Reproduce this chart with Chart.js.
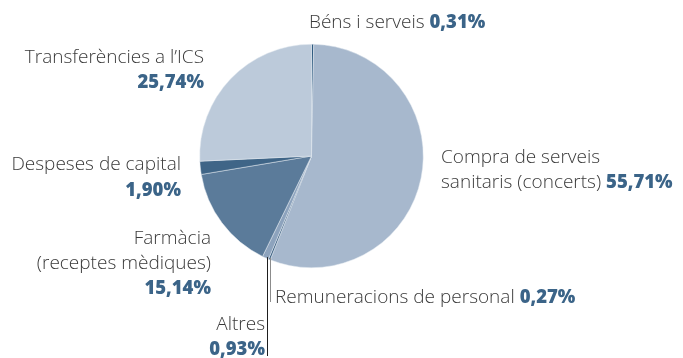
<!DOCTYPE html>
<html>
<head>
<meta charset="utf-8">
<script src="https://cdn.jsdelivr.net/npm/chart.js@4.4.1/dist/chart.umd.min.js"></script>
<style>
  html, body { margin: 0; padding: 0; background: #ffffff; }
  #wrap { width: 683px; height: 358px; position: relative; }
</style>
</head>
<body>
<div id="wrap"><canvas id="c" width="683" height="358"></canvas></div>
<script>
// Despesa per capítols (%), en ordre horari des de dalt
const categories = [
  'Béns i serveis',
  'Compra de serveis sanitaris (concerts)',
  'Remuneracions de personal',
  'Altres',
  'Farmàcia (receptes mèdiques)',
  'Despeses de capital',
  'Transferències a l’ICS'
];
const shares = [0.31, 55.71, 0.27, 0.93, 15.14, 1.90, 25.74];
const shareLabels = ['0,31%', '55,71%', '0,27%', '0,93%', '15,14%', '1,90%', '25,74%'];
const sliceColors = ['#2f5b80', '#a7b8cd', '#3a5f82', '#8da3bd', '#5b7b9a', '#3f6587', '#bccada'];

const NAME_FONT = '300 19px "Open Sans", Lato, sans-serif';
const NUM_FONT = '800 18.5px "Open Sans", Lato, sans-serif';
const NAME_COLOR = '#3a3a3a';
const NUM_COLOR = '#3b6488';

// Each label: lines of [text, isNumber] runs, anchor x, alignment, first baseline y, line gap
const labelLayout = [
  { x: 309, align: 'left',  y: 28.3, gap: 25,   lines: [[[categories[0] + ' ', false], [shareLabels[0], true]]] },
  { x: 441, align: 'left',  y: 163.3, gap: 24.5, lines: [[['Compra de serveis', false]], [['sanitaris (concerts) ', false], [shareLabels[1], true]]] },
  { x: 275, align: 'left',  y: 302.7, gap: 25,  lines: [[[categories[2] + ' ', false], [shareLabels[2], true]]] },
  { x: 265, align: 'right', y: 330, gap: 24.5,  lines: [[['Altres', false]], [[shareLabels[3], true]]] },
  { x: 211, align: 'right', y: 243.5, gap: 25,  lines: [[['Farmàcia', false]], [['(receptes mèdiques)', false]], [[shareLabels[4], true]]] },
  { x: 181, align: 'right', y: 170.3, gap: 25.5, lines: [[['Despeses de capital', false]], [[shareLabels[5], true]]] },
  { x: 204, align: 'right', y: 63, gap: 25.3,   lines: [[['Transferències a l’ICS', false]], [[shareLabels[6], true]]] }
];

const labelPlugin = {
  id: 'sliceLabels',
  afterDraw(chart) {
    const ctx = chart.ctx;
    const arcs = chart.getDatasetMeta(0).data;
    ctx.save();

    // leader lines for the two thin slices at the bottom
    const edgePoint = (arc, angle) => ({
      x: arc.x + Math.cos(angle) * arc.outerRadius,
      y: arc.y + Math.sin(angle) * arc.outerRadius
    });
    const rem = arcs[2], alt = arcs[3];
    const pRem = edgePoint(rem, rem.startAngle);
    const pAlt = edgePoint(alt, alt.startAngle);
    ctx.lineWidth = 1;
    ctx.strokeStyle = '#8c8c8c';
    ctx.beginPath();
    ctx.moveTo(Math.round(pRem.x) + 0.5, pRem.y - 2);
    ctx.lineTo(Math.round(pRem.x) + 0.5, 302);
    ctx.stroke();
    ctx.strokeStyle = '#1e1e1e';
    ctx.beginPath();
    ctx.moveTo(Math.round(pAlt.x) - 0.5, pAlt.y - 2);
    ctx.lineTo(Math.round(pAlt.x) - 0.5, 356);
    ctx.stroke();

    // text labels
    ctx.textBaseline = 'alphabetic';
    ctx.textAlign = 'left';
    labelLayout.forEach(lab => {
      lab.lines.forEach((runs, li) => {
        const y = lab.y + li * lab.gap;
        let total = 0;
        runs.forEach(([t, num]) => { ctx.font = num ? NUM_FONT : NAME_FONT; total += ctx.measureText(t).width; });
        let x = lab.align === 'right' ? lab.x - total : lab.x;
        runs.forEach(([t, num]) => {
          ctx.font = num ? NUM_FONT : NAME_FONT;
          ctx.fillStyle = num ? NUM_COLOR : NAME_COLOR;
          ctx.fillText(t, x, y);
          x += ctx.measureText(t).width;
        });
      });
    });
    ctx.restore();
  }
};

new Chart(document.getElementById('c'), {
  type: 'pie',
  data: {
    labels: categories,
    datasets: [{
      data: shares,
      backgroundColor: sliceColors,
      borderColor: '#e4eaf1',
      borderWidth: 0.5
    }]
  },
  options: {
    responsive: false,
    animation: false,
    layout: { padding: { left: 199, right: 259, top: 44, bottom: 90 } },
    plugins: {
      legend: { display: false },
      tooltip: { enabled: false }
    }
  },
  plugins: [labelPlugin]
});
</script>
</body>
</html>
